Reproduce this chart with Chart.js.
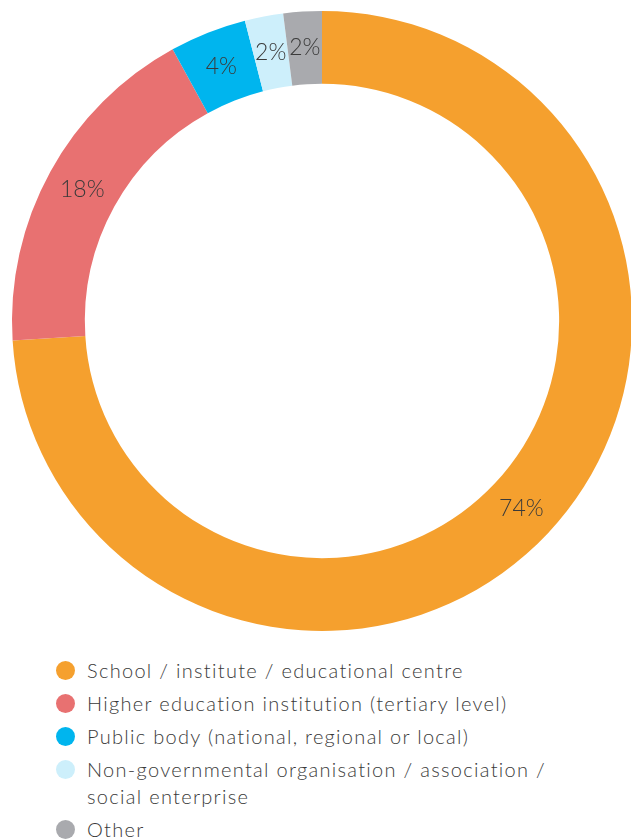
<!DOCTYPE html>
<html>
<head>
<meta charset="utf-8">
<script src="https://cdn.jsdelivr.net/npm/chart.js@4.4.0/dist/chart.umd.min.js"></script>
<style>
  html, body { margin: 0; padding: 0; width: 631px; height: 839px; overflow: hidden; background: #fff; }
  #wrap { position: absolute; left: 0; top: 0; width: 644px; height: 642px; }
  #legend { position: absolute; left: 56px; top: 657px; font-family: 'Lato', 'DejaVu Sans', sans-serif; font-weight: 300; font-size: 20px; letter-spacing: 1.3px; color: #3a3a3a; }
  .item { display: flex; align-items: flex-start; margin-bottom: 6px; line-height: 27px; }
  .dot { width: 19px; height: 19px; border-radius: 50%; flex: none; margin-top: 4px; margin-right: 12px; }
  .txt { width: 530px; }
</style>
</head>
<body>
<div id="wrap"><canvas id="c" width="644" height="642"></canvas></div>
<div id="legend"></div>
<script>
const categories = [
  'School / institute / educational centre',
  'Higher education institution (tertiary level)',
  'Public body (national, regional or local)',
  'Non-governmental organisation / association / social enterprise',
  'Other'
];
const legendLines = [
  ['School / institute / educational centre'],
  ['Higher education institution (tertiary level)'],
  ['Public body (national, regional or local)'],
  ['Non-governmental organisation / association /', 'social enterprise'],
  ['Other']
];
const values = [74, 18, 4, 2, 2];
const valueLabels = ['74%', '18%', '4%', '2%', '2%'];
const colors = ['#F5A02E', '#E87171', '#00B5EE', '#CDEFFB', '#A9AAAE'];

const labelPlugin = {
  id: 'sliceLabels',
  afterDatasetsDraw(chart) {
    const ctx = chart.ctx;
    const meta = chart.getDatasetMeta(0);
    ctx.save();
    ctx.font = '300 23px Lato, "DejaVu Sans", sans-serif';
    ctx.fillStyle = '#3a3a3a';
    ctx.textAlign = 'center';
    ctx.textBaseline = 'middle';
    meta.data.forEach((arc, i) => {
      const p = arc.getProps(['x', 'y', 'startAngle', 'endAngle', 'innerRadius', 'outerRadius'], true);
      const a = (p.startAngle + p.endAngle) / 2;
      const r = (p.innerRadius + p.outerRadius) / 2;
      ctx.fillText(valueLabels[i], p.x + Math.cos(a) * r, p.y + Math.sin(a) * r);
    });
    ctx.restore();
  }
};

new Chart(document.getElementById('c'), {
  type: 'doughnut',
  data: {
    labels: categories,
    datasets: [{ data: values, backgroundColor: colors, borderWidth: 0 }]
  },
  options: {
    responsive: false,
    animation: false,
    cutout: '76.5%',
    layout: { padding: { left: 12, right: 12, top: 11, bottom: 11 } },
    plugins: { legend: { display: false }, tooltip: { enabled: false } }
  },
  plugins: [labelPlugin]
});

const lg = document.getElementById('legend');
legendLines.forEach((lines, i) => {
  const it = document.createElement('div');
  it.className = 'item';
  const d = document.createElement('div');
  d.className = 'dot';
  d.style.background = colors[i];
  const t = document.createElement('div');
  t.className = 'txt';
  t.innerHTML = lines.join('<br>');
  it.appendChild(d); it.appendChild(t);
  lg.appendChild(it);
});
</script>
</body>
</html>
